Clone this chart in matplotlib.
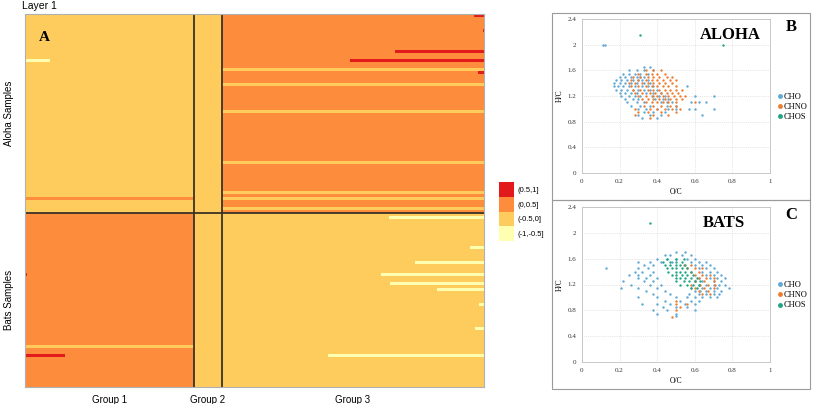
import numpy as np
import matplotlib
matplotlib.use("Agg")
import matplotlib.pyplot as plt
from matplotlib.colors import ListedColormap
from matplotlib.patches import Patch, Rectangle
from matplotlib.lines import Line2D

# ---- heatmap data (panel A) ----
group_names = ["Group 1", "Group 2", "Group 3"]
group_sizes = [169, 28, 262]
sample_names = ["Aloha Samples", "Bats Samples"]
sample_sizes = [66, 58]
bin_labels = ["(-1,-0.5]", "(-0.5,0]", "(0,0.5]", "(0.5,1]"]
bin_colors = ["#ffffb2", "#fecc5c", "#fd8d3c", "#e31a1c"]
# base bin per (sample block, group)
block_base = [[1, 1, 2],
              [2, 1, 1]]
# stripes: (sample block, group, row, first col, end col, bin)
stripes = [
    (0, 0, 15, 0, 25, 0), (0, 0, 61, 0, 169, 2),
    (0, 2, 0, 251, 262, 3), (0, 2, 5, 260, 262, 3), (0, 2, 12, 172, 262, 3),
    (0, 2, 15, 127, 262, 3), (0, 2, 18, 0, 262, 1), (0, 2, 19, 255, 262, 3),
    (0, 2, 23, 0, 262, 1), (0, 2, 32, 0, 262, 1), (0, 2, 49, 0, 262, 1),
    (0, 2, 59, 0, 262, 1), (0, 2, 61, 0, 262, 1), (0, 2, 64, 0, 262, 1),
    (1, 0, 0, 0, 1, 3), (1, 0, 20, 0, 2, 3), (1, 0, 23, 0, 1, 3),
    (1, 0, 44, 0, 169, 1), (1, 0, 47, 0, 40, 3),
    (1, 2, 1, 166, 262, 0), (1, 2, 11, 247, 262, 0), (1, 2, 16, 192, 262, 0),
    (1, 2, 20, 158, 262, 0), (1, 2, 23, 167, 262, 0), (1, 2, 25, 214, 262, 0),
    (1, 2, 30, 256, 262, 0), (1, 2, 38, 252, 262, 0), (1, 2, 47, 105, 262, 0),
]

# ---- van krevelen data (panels B, C): (H/C, [O/C ...]) ----
aloha_cho = [
    (2.0, [0.11, 0.12]),
    (1.65, [0.33, 0.36]), (1.6, [0.25, 0.29, 0.33, 0.38]),
    (1.55, [0.22, 0.25, 0.28, 0.31, 0.35]), (1.5, [0.2, 0.23, 0.26, 0.29, 0.31, 0.33]),
    (1.45, [0.18, 0.21, 0.24, 0.27, 0.3, 0.32, 0.35]),
    (1.4, [0.17, 0.2, 0.23, 0.26, 0.29, 0.33, 0.36]),
    (1.35, [0.17, 0.19, 0.22, 0.25, 0.28, 0.32, 0.35, 0.38, 0.56]),
    (1.3, [0.18, 0.21, 0.24, 0.27, 0.3, 0.33, 0.36, 0.4]),
    (1.25, [0.2, 0.23, 0.26, 0.29, 0.34, 0.38, 0.42]),
    (1.2, [0.21, 0.25, 0.28, 0.31, 0.37, 0.41, 0.44, 0.6, 0.7]),
    (1.15, [0.23, 0.27, 0.3, 0.39, 0.43, 0.46]),
    (1.1, [0.24, 0.29, 0.33, 0.42, 0.45, 0.48, 0.58, 0.62, 0.66]),
    (1.05, [0.26, 0.31, 0.36, 0.45, 0.5]),
    (1.0, [0.3, 0.34, 0.4, 0.46, 0.5, 0.57, 0.6, 0.7]),
    (0.95, [0.33, 0.38, 0.44]), (0.9, [0.3, 0.36, 0.42, 0.64]), (0.85, [0.32, 0.4]),
]
aloha_chno = [
    (1.6, [0.34, 0.38, 0.42]), (1.55, [0.3, 0.34, 0.37, 0.4, 0.44]),
    (1.5, [0.27, 0.31, 0.35, 0.38, 0.41, 0.45, 0.48]),
    (1.45, [0.26, 0.3, 0.34, 0.37, 0.4, 0.43, 0.47, 0.5]),
    (1.4, [0.25, 0.28, 0.32, 0.35, 0.38, 0.41, 0.44, 0.48]),
    (1.35, [0.26, 0.3, 0.34, 0.37, 0.4, 0.43, 0.46, 0.5]),
    (1.3, [0.27, 0.31, 0.35, 0.38, 0.41, 0.44, 0.47, 0.5, 0.53]),
    (1.25, [0.28, 0.32, 0.36, 0.39, 0.42, 0.45, 0.48, 0.51]),
    (1.2, [0.3, 0.34, 0.38, 0.4, 0.43, 0.46, 0.49, 0.52, 0.55]),
    (1.15, [0.32, 0.35, 0.38, 0.41, 0.44, 0.47, 0.5, 0.53]),
    (1.1, [0.34, 0.37, 0.4, 0.43, 0.46, 0.5, 0.6]),
    (1.05, [0.33, 0.38, 0.42, 0.47, 0.5]),
    (1.0, [0.28, 0.36, 0.4, 0.44, 0.48, 0.52]),
    (0.95, [0.3, 0.35, 0.42, 0.5]), (0.9, [0.28, 0.38, 0.46]), (0.85, [0.36]),
]
aloha_chos = [(2.15, [0.31]), (2.0, [0.75])]

bats_cho = [
    (1.7, [0.5, 0.55]), (1.65, [0.44, 0.47, 0.53, 0.58]),
    (1.6, [0.4, 0.45, 0.5, 0.56, 0.6]),
    (1.55, [0.3, 0.36, 0.42, 0.48, 0.58, 0.62, 0.66]),
    (1.5, [0.33, 0.38, 0.6, 0.64, 0.68]),
    (1.45, [0.13, 0.3, 0.35, 0.62, 0.66, 0.7]),
    (1.4, [0.28, 0.32, 0.38, 0.64, 0.68, 0.72]),
    (1.35, [0.25, 0.3, 0.36, 0.66, 0.7, 0.74]),
    (1.3, [0.3, 0.34, 0.4, 0.62, 0.68, 0.72, 0.76]),
    (1.25, [0.22, 0.33, 0.38, 0.6, 0.64, 0.7, 0.74]),
    (1.2, [0.26, 0.36, 0.42, 0.62, 0.66, 0.7, 0.73, 0.76]),
    (1.15, [0.21, 0.3, 0.4, 0.58, 0.64, 0.68, 0.72, 0.78]),
    (1.1, [0.34, 0.44, 0.6, 0.63, 0.66, 0.7, 0.74]),
    (1.05, [0.38, 0.47, 0.57, 0.62, 0.66, 0.7, 0.73]),
    (1.0, [0.3, 0.4, 0.5, 0.56, 0.6, 0.64, 0.68, 0.72]),
    (0.95, [0.44, 0.52, 0.58, 0.62]), (0.9, [0.32, 0.4, 0.47, 0.55, 0.6]),
    (0.85, [0.43, 0.5, 0.56]), (0.8, [0.38, 0.45, 0.6]),
    (0.75, [0.4, 0.5]), (0.72, [0.5]),
]
bats_chno = [
    (1.5, [0.54, 0.58]), (1.45, [0.56, 0.6, 0.64]), (1.4, [0.58, 0.62]),
    (1.35, [0.6, 0.64, 0.68]), (1.3, [0.62, 0.66, 0.7]), (1.25, [0.6, 0.65, 0.7]),
    (1.2, [0.58, 0.63, 0.67, 0.71]), (1.15, [0.6, 0.65, 0.7]),
    (1.1, [0.62, 0.67]), (1.05, [0.64, 0.68]),
    (0.95, [0.5]), (0.9, [0.5, 0.56]), (0.85, [0.52]), (0.8, [0.5]), (0.7, [0.48]),
]
bats_chos = [
    (2.15, [0.36]),
    (1.6, [0.45, 0.5, 0.54]), (1.55, [0.43, 0.47, 0.5, 0.53]),
    (1.5, [0.44, 0.47, 0.5, 0.52, 0.55]), (1.45, [0.45, 0.48, 0.5, 0.53, 0.56]),
    (1.4, [0.46, 0.5, 0.52, 0.55, 0.58]), (1.35, [0.48, 0.5, 0.53, 0.56, 0.59]),
    (1.3, [0.5, 0.52, 0.55, 0.58, 0.61]), (1.25, [0.5, 0.54, 0.57, 0.6, 0.63]),
    (1.2, [0.52, 0.56, 0.59, 0.62]), (1.15, [0.58, 0.61]),
]
series_names = ["CHO", "CHNO", "CHOS"]
series_colors = ["#5ea9d6", "#ed7d31", "#1fa584"]

sans = "Liberation Sans"
serif = "Liberation Serif"

fig = plt.figure(figsize=(8.13, 4.04), dpi=100)

# ---- build matrix ----
nrow = sum(sample_sizes)
ncol = sum(group_sizes)
mat = np.zeros((nrow, ncol))
r_off = np.concatenate([[0], np.cumsum(sample_sizes)])
c_off = np.concatenate([[0], np.cumsum(group_sizes)])
for i in range(2):
    for j in range(3):
        mat[r_off[i]:r_off[i + 1], c_off[j]:c_off[j + 1]] = block_base[i][j]
for sb, g, row, c0, c1, b in stripes:
    mat[r_off[sb] + row, c_off[g] + c0:c_off[g] + c1] = b

ax = fig.add_axes([25 / 813, 1 - 387 / 404, 459 / 813, 373 / 404])
ax.imshow(mat, cmap=ListedColormap(bin_colors), vmin=-0.5, vmax=3.5,
          aspect="auto", interpolation="nearest")
for c in c_off[1:-1]:
    ax.axvline(c - 0.5, color="#3a3326", lw=1.3)
ax.axhline(r_off[1] - 0.5, color="#3a3326", lw=1.3)
ax.set_xticks([(c_off[j] + c_off[j + 1]) / 2 - 0.5 for j in range(3)])
ax.set_xticklabels(group_names, fontsize=7, family=sans)
ax.set_yticks([(r_off[i] + r_off[i + 1]) / 2 - 0.5 for i in range(2)])
ax.set_yticklabels(sample_names, fontsize=7, family=sans, rotation=90, va="center")
ax.tick_params(length=0, pad=6)
ax.tick_params(axis="y", pad=8)
for s in ax.spines.values():
    s.set_color("#b0b0b0")
    s.set_linewidth(0.8)
ax.text(0.03, 0.955, "A", transform=ax.transAxes, fontsize=11, weight="bold",
        family=serif, ha="left", va="top")
fig.text(22 / 813, 1 - 6 / 404, "Layer 1", fontsize=7.5, family=sans, va="center")

handles = [Patch(facecolor=bin_colors[k], edgecolor="none") for k in [3, 2, 1, 0]]
fig.legend(handles, [bin_labels[k] for k in [3, 2, 1, 0]], loc="upper left",
           bbox_to_anchor=(496 / 813, 1 - 179 / 404), frameon=False,
           prop={"family": sans, "size": 5.5}, handlelength=2.0, handleheight=2.6,
           labelspacing=0.0, handletextpad=0.4, borderaxespad=0)

# ---- scatter panels ----
def flatten(rows):
    xs, ys = [], []
    for hc, ocs in rows:
        for oc in ocs:
            xs.append(oc)
            ys.append(hc)
    return np.array(xs), np.array(ys)

panels = [
    ([aloha_cho, aloha_chno, aloha_chos], "ALOHA", "B", 19, 173, 13, 200),
    ([bats_cho, bats_chno, bats_chos], "BATS", "C", 207, 362, 200, 389),
]
for data, title, letter, ytop, ybot, btop, bbot in panels:
    fig.add_artist(Rectangle((552 / 813, 1 - bbot / 404), 258 / 813, (bbot - btop) / 404,
                             transform=fig.transFigure, fill=False,
                             edgecolor="#9a9a9a", lw=0.8))
    a = fig.add_axes([582 / 813, 1 - ybot / 404, 188 / 813, (ybot - ytop) / 404])
    for rows, name, col in zip(data, series_names, series_colors):
        x, y = flatten(rows)
        a.scatter(x, y, s=3, color=col, linewidths=0, label=name)
    a.set_xlim(0, 1)
    a.set_ylim(0, 2.4)
    a.set_xticks([0, 0.2, 0.4, 0.6, 0.8, 1])
    a.set_xticklabels(["0", "0.2", "0.4", "0.6", "0.8", "1"])
    a.set_yticks([0, 0.4, 0.8, 1.2, 1.6, 2, 2.4])
    a.set_yticklabels(["0", "0.4", "0.8", "1.2", "1.6", "2", "2.4"])
    a.grid(True, color="#d0d0d0", lw=0.5, ls=":")
    a.set_axisbelow(True)
    a.tick_params(length=0, labelsize=5, pad=4, labelcolor="#333333")
    for lab in a.get_xticklabels() + a.get_yticklabels():
        lab.set_family(serif)
    for s in a.spines.values():
        s.set_color("#c0c0c0")
        s.set_linewidth(0.6)
    a.set_xlabel("O/C", fontsize=5.5, family=serif, labelpad=3)
    a.set_ylabel("H/C", fontsize=5.5, family=serif, labelpad=3)
    a.text(0.79 if title == "ALOHA" else 0.755, 0.895, title, transform=a.transAxes,
           fontsize=12, weight="bold", family=serif, ha="center", va="center")
    fig.text(791 / 813, 1 - (ytop + 8) / 404, letter, fontsize=12, weight="bold",
             family=serif, ha="center", va="center")
    mh = [Line2D([], [], marker="o", ls="none", color=c, markersize=2.5)
          for c in series_colors]
    a.legend(mh, series_names, loc="center left", bbox_to_anchor=(1.02, 0.43),
             frameon=False, prop={"family": serif, "size": 6}, handlelength=0.6,
             handletextpad=0.2, labelspacing=0.25, borderaxespad=0)

fig.savefig("out.png", dpi=100)
